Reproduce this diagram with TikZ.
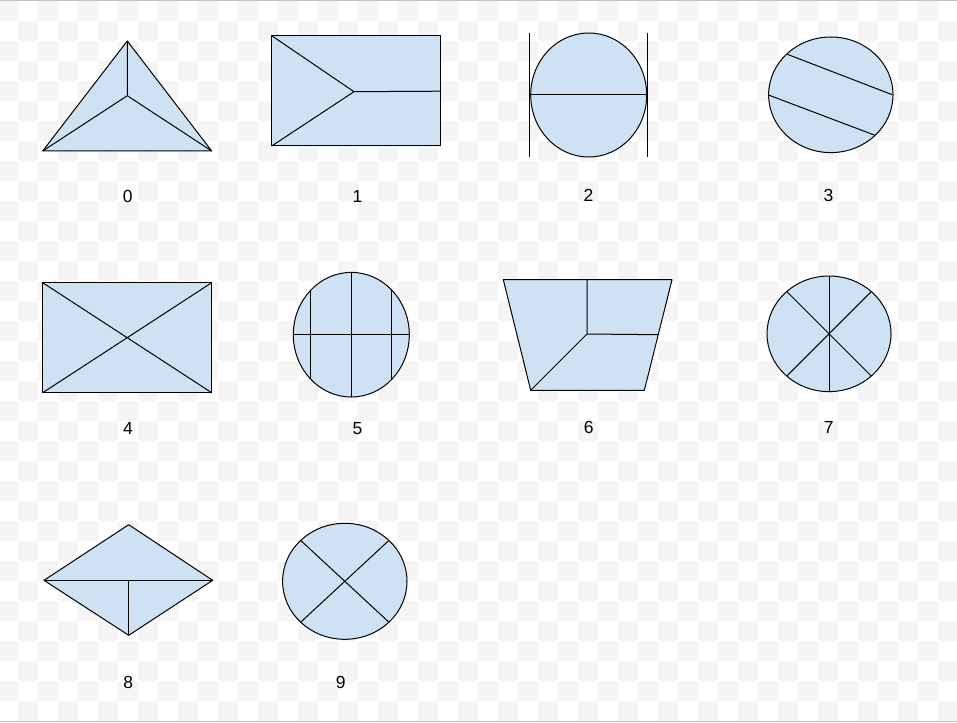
\documentclass[tikz,border=0pt]{standalone}
\usepackage{fontspec}
\setmainfont{Liberation Sans}
\definecolor{shapefill}{HTML}{CFE2F3}
\definecolor{checker}{HTML}{F5F5F5}
\definecolor{edgegray}{HTML}{C4C4C4}
\begin{document}
\begin{tikzpicture}[x=1pt,y=-1pt,
  fig/.style={fill=shapefill,draw=black,line width=1pt,line join=round},
  cut/.style={draw=black,line width=1pt},
  lbl/.style={font=\fontsize{17.5}{20}\selectfont,text=black,inner sep=0pt}]
\useasboundingbox (0,0) rectangle (957,722);
% background checkerboard
\begin{scope}
\clip (0,0.5) rectangle (957,721);
\foreach \r in {0,...,35}{
  \pgfmathtruncatemacro\s{mod(\r,2)}
  \foreach \k in {0,...,23}{
    \fill[checker] ({-2+20*(2*\k+\s)},{1+20*\r}) rectangle ++(20,20);
  }
}
\end{scope}
\draw[edgegray,line width=1pt] (0,0.5) -- (957,0.5);
\draw[edgegray,line width=1pt] (0,721.5) -- (957,721.5);

% 0 triangle
\coordinate (t0a) at (127.3,41);
\coordinate (t0l) at (42.7,151);
\coordinate (t0r) at (211.7,151);
\coordinate (t0c) at (127.3,95.7);
\draw[fig] (t0a) -- (t0r) -- (t0l) -- cycle;
\draw[cut] (t0a) -- (t0c) (t0l) -- (t0c) -- (t0r);
\node[lbl] (l0) at (127.7,196.5) {0};

% 1 rectangle with arrow
\coordinate (r1tl) at (271.7,35.7);
\coordinate (r1br) at (440.7,146);
\coordinate (r1bl) at (271.7,146);
\coordinate (r1c) at (354,91.7);
\coordinate (r1rm) at (440.7,91.2);
\draw[fig] (r1tl) rectangle (r1br);
\draw[cut] (r1tl) -- (r1c) -- (r1bl) (r1c) -- (r1rm);
\node[lbl] (l1) at (357.5,196.5) {1};

% 2 circle with tangents
\draw[fig] (588.7,95) ellipse [x radius=58,y radius=62];
\coordinate (c2l) at (530.7,95);
\coordinate (c2r) at (646.7,95);
\draw[cut] (c2l) -- (c2r);
\draw[cut] (529.5,33) -- (529.5,157.3) (647.3,33) -- (647.3,157.3);
\node[lbl] (l2) at (588.5,195.5) {2};

% 3 ellipse with two slanted chords
\draw[fig] (830.8,94.8) ellipse [x radius=62.2,y radius=57.8];
\draw[cut] (787.3,54.3) -- (892.2,94.7) (769.3,95.3) -- (875,135.3);
\node[lbl] (l3) at (828.5,195.5) {3};

% 4 rectangle with diagonals
\coordinate (r4tl) at (42.7,282.7);
\coordinate (r4br) at (211.7,392.7);
\draw[fig] (r4tl) rectangle (r4br);
\draw[cut] (r4tl) -- (r4br) (42.7,392.7) -- (211.7,282.7);
\node[lbl] (l4) at (128,428.3) {4};

% 5 circle with grid
\draw[fig] (351.3,334.7) ellipse [x radius=58,y radius=62.3];
\draw[cut] (293.3,334.7) -- (409.3,334.7) (351.3,272.4) -- (351.3,397);
\draw[cut] (310,290.9) -- (310,378.5) (391.7,290.2) -- (391.7,379.2);
\node[lbl] (l5) at (357.5,428.3) {5};

% 6 trapezoid
\coordinate (p6tl) at (503.3,279.7);
\coordinate (p6tr) at (672,279.7);
\coordinate (p6br) at (644.3,390.3);
\coordinate (p6bl) at (530.7,390.3);
\coordinate (p6c) at (587,334);
\draw[fig] (p6tl) -- (p6tr) -- (p6br) -- (p6bl) -- cycle;
\draw[cut] (587,279.7) -- (p6c) -- (658.1,334.7) (p6c) -- (p6bl);
\node[lbl] (l6) at (588.7,427.7) {6};

% 7 circle with six sectors
\draw[fig] (829,333.8) ellipse [x radius=62,y radius=57.8];
\draw[cut] (829,276) -- (829,391.6);
\draw[cut] (786.7,291.5) -- (871.3,376.1) (871.3,291.5) -- (786.7,376.1);
\node[lbl] (l7) at (828.7,427.7) {7};

% 8 diamond
\coordinate (d8t) at (128.7,524.7);
\coordinate (d8l) at (44,580.3);
\coordinate (d8r) at (212.7,580.3);
\coordinate (d8b) at (128.7,635.3);
\draw[fig] (d8t) -- (d8r) -- (d8b) -- (d8l) -- cycle;
\draw[cut] (d8l) -- (d8r) (128.7,580.3) -- (d8b);
\node[lbl] (l8) at (128.3,682.7) {8};

% 9 circle with cross
\draw[fig] (344.8,581.3) ellipse [x radius=62.2,y radius=58];
\draw[cut] (301,540.7) -- (388.6,621.9) (388.6,540.7) -- (301,621.9);
\node[lbl] (l9) at (340.7,682.7) {9};
\end{tikzpicture}
\end{document}
